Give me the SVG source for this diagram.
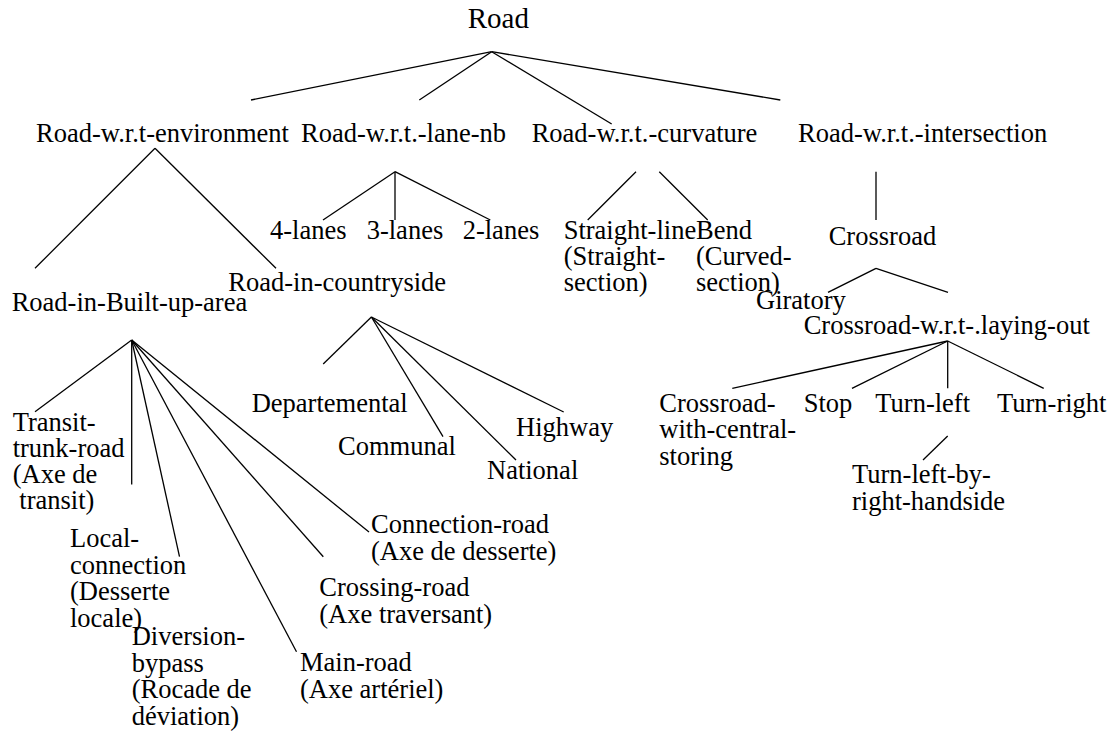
<svg xmlns="http://www.w3.org/2000/svg" width="1112" height="731" viewBox="0 0 1112 731">
<style>
text{font-family:"Liberation Serif","Times New Roman",serif;font-size:26.5px;fill:#000}
.root{font-size:29px}
#connectors line{stroke:#000;stroke-width:1.3;fill:none}
</style>
<rect width="1112" height="731" fill="#fff"/>
<g id="connectors">
<line x1="491.7" y1="51.7" x2="251" y2="100"/>
<line x1="491.7" y1="51.7" x2="419.3" y2="100"/>
<line x1="491.7" y1="51.7" x2="611.7" y2="124"/>
<line x1="491.7" y1="51.7" x2="780.3" y2="100"/>
<line x1="155" y1="148.3" x2="35" y2="268.3"/>
<line x1="155" y1="148.3" x2="276" y2="268.3"/>
<line x1="395" y1="171.7" x2="323" y2="220"/>
<line x1="395" y1="171.7" x2="395" y2="220"/>
<line x1="395" y1="171.7" x2="490.3" y2="220"/>
<line x1="636" y1="171.7" x2="587.7" y2="220"/>
<line x1="659.3" y1="171.7" x2="707.7" y2="220"/>
<line x1="876" y1="171.7" x2="876" y2="220"/>
<line x1="876" y1="268.3" x2="828" y2="292.3"/>
<line x1="876" y1="268.3" x2="948" y2="292.3"/>
<line x1="947.7" y1="341" x2="732.3" y2="388.3"/>
<line x1="947.7" y1="341" x2="852" y2="388.3"/>
<line x1="947.7" y1="341" x2="947.7" y2="388.3"/>
<line x1="947.7" y1="341" x2="1043.7" y2="388.3"/>
<line x1="947.7" y1="436" x2="923" y2="460"/>
<line x1="371.4" y1="317" x2="323.2" y2="364"/>
<line x1="371.4" y1="317" x2="443" y2="436.7"/>
<line x1="371.4" y1="317" x2="516" y2="460"/>
<line x1="371.4" y1="317" x2="563.7" y2="412"/>
<line x1="131.7" y1="340" x2="35" y2="411.7"/>
<line x1="131.7" y1="340" x2="131.7" y2="484.5"/>
<line x1="131.7" y1="340" x2="179.5" y2="556.7"/>
<line x1="131.7" y1="340" x2="296.5" y2="651.7"/>
<line x1="131.7" y1="340" x2="323.3" y2="556.7"/>
<line x1="131.7" y1="340" x2="369" y2="532"/>
</g>
<g id="road"><text class="root" x="467.7" y="28">Road</text></g>
<g id="env"><text x="36" y="142">Road-w.r.t-environment</text></g>
<g id="lane"><text x="301" y="142">Road-w.r.t.-lane-nb</text></g>
<g id="curv"><text x="531.7" y="142">Road-w.r.t.-curvature</text></g>
<g id="inter"><text x="798" y="142">Road-w.r.t.-intersection</text></g>
<g id="l4"><text x="270" y="239">4-lanes</text></g>
<g id="l3"><text x="366.7" y="239">3-lanes</text></g>
<g id="l2"><text x="462.7" y="239">2-lanes</text></g>
<g id="straight"><text x="563.7" y="239">Straight-line<tspan x="563.7" dy="26">(Straight-</tspan><tspan x="563.7" dy="26">section)</tspan></text></g>
<g id="bend"><text x="696" y="239">Bend<tspan x="696" dy="26">(Curved-</tspan><tspan x="696" dy="26">section)</tspan></text></g>
<g id="crossroad"><text x="828.7" y="244.5">Crossroad</text></g>
<g id="giratory"><text x="756" y="309">Giratory</text></g>
<g id="laying"><text x="803.7" y="334">Crossroad-w.r.t-.laying-out</text></g>
<g id="central"><text x="659.3" y="411.7">Crossroad-<tspan x="659.3" dy="26.5">with-central-</tspan><tspan x="659.3" dy="26.5">storing</tspan></text></g>
<g id="stop"><text x="803.7" y="411.7">Stop</text></g>
<g id="turnleft"><text x="875.3" y="411.7">Turn-left</text></g>
<g id="turnright"><text x="997" y="411.7">Turn-right</text></g>
<g id="turnleftby"><text x="852" y="483">Turn-left-by-<tspan x="852" dy="26.5">right-handside</tspan></text></g>
<g id="countryside"><text x="228.3" y="291">Road-in-countryside</text></g>
<g id="builtup"><text x="11.7" y="310.5">Road-in-Built-up-area</text></g>
<g id="departemental"><text x="251.7" y="412">Departemental</text></g>
<g id="communal"><text x="338" y="455">Communal</text></g>
<g id="highway"><text x="516" y="435.5">Highway</text></g>
<g id="national"><text x="487" y="479">National</text></g>
<g id="transit"><text x="12.7" y="431">Transit-<tspan x="12.7" dy="26">trunk-road</tspan><tspan x="12.7" dy="26">(Axe de</tspan><tspan x="19.3" dy="26">transit)</tspan></text></g>
<g id="local"><text x="70" y="547">Local-<tspan x="70" dy="26.5">connection</tspan><tspan x="70" dy="26.5">(Desserte</tspan><tspan x="70" dy="26.5">locale)</tspan></text></g>
<g id="diversion"><text x="131.7" y="645">Diversion-<tspan x="131.7" dy="26.5">bypass</tspan><tspan x="131.7" dy="26.5">(Rocade de</tspan><tspan x="131.7" dy="26.5">déviation)</tspan></text></g>
<g id="mainroad"><text x="300" y="671">Main-road<tspan x="300" dy="26.5">(Axe artériel)</tspan></text></g>
<g id="crossing"><text x="319.3" y="596">Crossing-road<tspan x="319.3" dy="26.5">(Axe traversant)</tspan></text></g>
<g id="connection"><text x="371" y="533">Connection-road<tspan x="371" dy="26.5">(Axe de desserte)</tspan></text></g>
</svg>
